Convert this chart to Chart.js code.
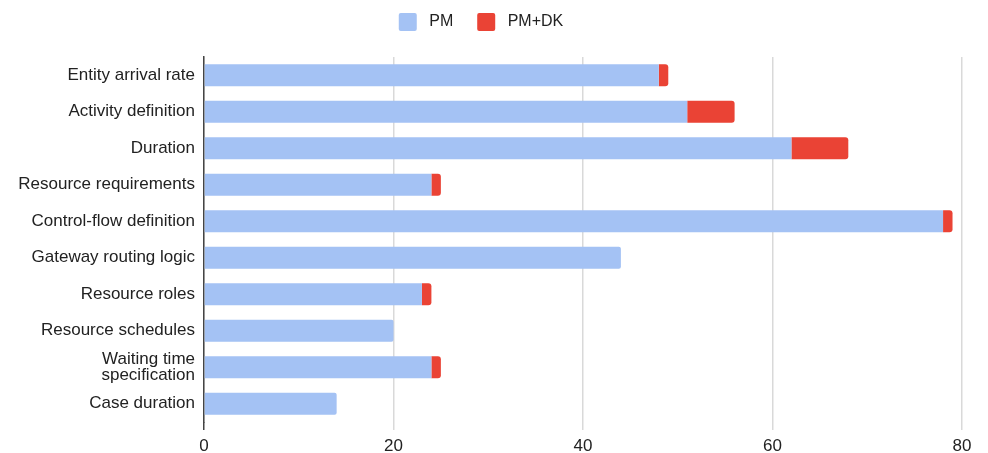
<!DOCTYPE html>
<html>
<head>
<meta charset="utf-8">
<script src="https://cdn.jsdelivr.net/npm/chart.js@4"></script>
<style>
  html, body { margin: 0; padding: 0; background: #fff; }
  #wrap { width: 988px; height: 453px; position: relative; }
</style>
</head>
<body>
<div id="wrap"><canvas id="c"></canvas></div>
<script>
// Categories (top to bottom)
const categories = [
  'Entity arrival rate',
  'Activity definition',
  'Duration',
  'Resource requirements',
  'Control-flow definition',
  'Gateway routing logic',
  'Resource roles',
  'Resource schedules',
  ['Waiting time', 'specification'],
  'Case duration'
];

// Counts found with process mining alone
const pmValues = [48, 51, 62, 24, 78, 44, 23, 20, 24, 14];
// Additional counts once domain knowledge is added
const pmDkValues = [1, 5, 6, 1, 1, 0, 1, 0, 1, 0];

// Value axis ticks
const xTicks = [0, 20, 40, 60, 80];

const FONT = '"Liberation Sans", Arial, Helvetica, sans-serif';

// Reserve a fixed band for the legend above the plot
const legendBand = {
  id: 'legendBand',
  afterInit(chart) {
    const lg = chart.legend;
    if (!lg) return;
    const fit = lg.fit;
    lg.fit = function () {
      fit.call(this);
      this.height = 68;
    };
  }
};

new Chart(document.getElementById('c'), {
  type: 'bar',
  data: {
    labels: categories,
    datasets: [
      {
        label: 'PM',
        data: pmValues,
        backgroundColor: '#a4c2f4',
        borderWidth: 0,
        borderRadius: (ctx) => pmDkValues[ctx.dataIndex] === 0
          ? { topLeft: 0, bottomLeft: 0, topRight: 2, bottomRight: 2 } : 0,
        borderSkipped: false
      },
      {
        label: 'PM+DK',
        data: pmDkValues,
        backgroundColor: '#ea4335',
        borderWidth: 0,
        borderRadius: { topLeft: 0, bottomLeft: 0, topRight: 3, bottomRight: 3 },
        borderSkipped: false
      }
    ]
  },
  plugins: [legendBand],
  options: {
    indexAxis: 'y',
    responsive: true,
    maintainAspectRatio: false,
    animation: false,
    devicePixelRatio: 1,
    layout: { padding: { left: 0, right: 26, top: -11, bottom: 0 } },
    datasets: {
      bar: { categoryPercentage: 1.0, barPercentage: 0.6 }
    },
    plugins: {
      tooltip: { enabled: false },
      legend: {
        position: 'top',
        align: 'center',
        labels: {
          font: { family: FONT, size: 16 },
          color: '#222',
          boxWidth: 18,
          boxHeight: 18,
          useBorderRadius: true,
          borderRadius: 2,
          padding: 24,
          generateLabels: (chart) =>
            Chart.defaults.plugins.legend.labels.generateLabels(chart)
              .map(item => ({ ...item, text: ' ' + item.text }))
        }
      }
    },
    scales: {
      x: {
        stacked: true,
        min: 0,
        max: 80,
        afterBuildTicks: (scale) => { scale.ticks = xTicks.map(v => ({ value: v })); },
        afterFit: (scale) => { scale.height = 31; },
        ticks: {
          font: { family: FONT, size: 17 },
          color: '#222',
          padding: 6
        },
        grid: {
          color: '#d9d9d9',
          lineWidth: 1.5,
          tickLength: 8,
          tickColor: (ctx) => ctx.tick && ctx.tick.value === 0 ? '#444' : '#d9d9d9'
        },
        border: { display: false }
      },
      y: {
        stacked: true,
        afterFit: (scale) => { scale.width = 204; },
        ticks: {
          autoSkip: false,
          font: { family: FONT, size: 17, lineHeight: 0.95 },
          color: '#222',
          padding: 9
        },
        grid: { display: false, drawTicks: false },
        border: { display: true, color: '#444', width: 1.5 }
      }
    }
  }
});
</script>
</body>
</html>
